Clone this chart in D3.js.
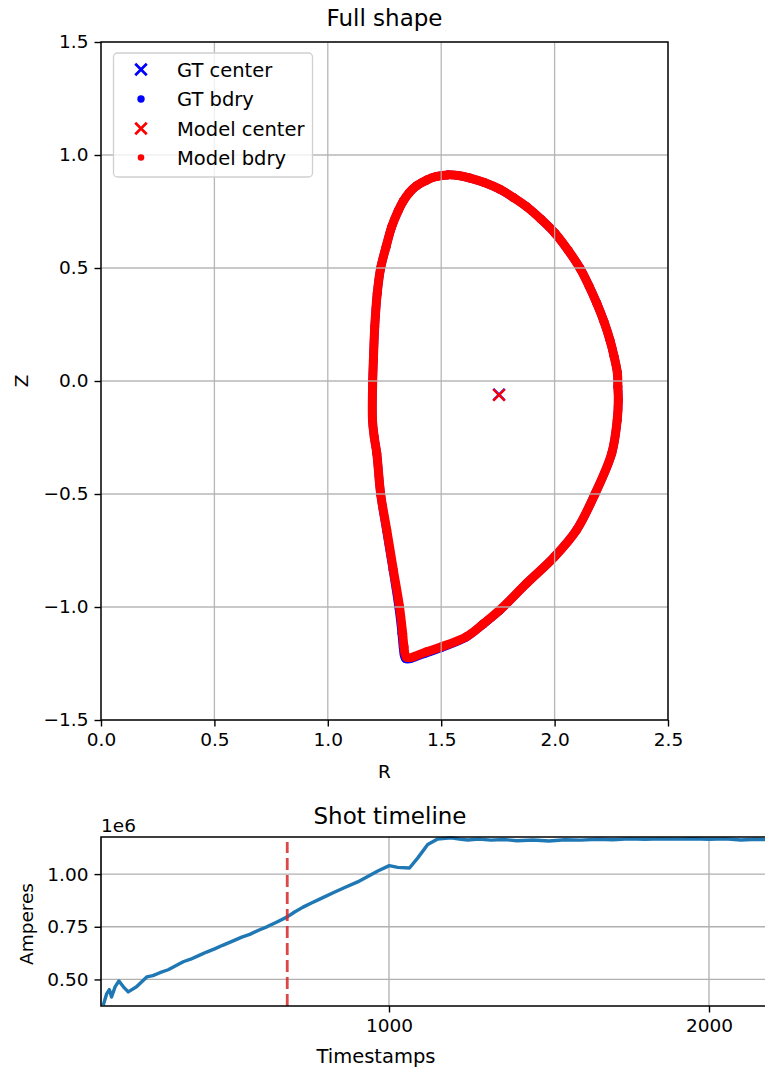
<!DOCTYPE html>
<html><head><meta charset="utf-8">
<script src="https://cdn.jsdelivr.net/npm/d3@7"></script>
<style>
body{margin:0;background:#fff}
svg text{font-family:"DejaVu Sans",sans-serif;fill:#000}
</style>
</head><body>
<svg id="c" width="765" height="1070"></svg>
<script>
// ---------- Full shape data ----------
const modelR = [2.279,2.277,2.262,2.244,2.218,2.186,2.152,2.112,2.060,2.002,1.940,1.877,1.818,1.759,1.690,1.627,1.575,1.529,1.480,1.436,1.392,1.358,1.332,1.310,1.282,1.257,1.233,1.218,1.207,1.201,1.198,1.197,1.205,1.216,1.233,1.260,1.289,1.316,1.330,1.336,1.348,1.436,1.502,1.612,1.685,1.759,1.877,2.000,2.097,2.178,2.252,2.276,2.281];
const modelZ = [-0.025,0.034,0.110,0.181,0.262,0.344,0.420,0.499,0.578,0.654,0.716,0.771,0.812,0.848,0.878,0.898,0.909,0.912,0.905,0.889,0.864,0.832,0.795,0.752,0.683,0.594,0.499,0.388,0.240,0.093,0.001,-0.173,-0.250,-0.320,-0.500,-0.659,-0.836,-0.998,-1.116,-1.176,-1.223,-1.198,-1.176,-1.131,-1.075,-1.013,-0.895,-0.777,-0.659,-0.500,-0.320,-0.173,-0.084];
const gtR = [2.279,2.277,2.262,2.244,2.218,2.186,2.152,2.112,2.060,2.002,1.940,1.877,1.818,1.759,1.690,1.627,1.575,1.529,1.480,1.436,1.392,1.358,1.332,1.310,1.282,1.257,1.233,1.218,1.207,1.201,1.198,1.197,1.205,1.216,1.233,1.258,1.287,1.312,1.326,1.332,1.343,1.430,1.500,1.610,1.684,1.758,1.876,2.000,2.097,2.178,2.252,2.276,2.281];
const gtZ = [-0.025,0.034,0.110,0.181,0.262,0.344,0.420,0.499,0.578,0.654,0.716,0.771,0.812,0.848,0.878,0.898,0.909,0.912,0.905,0.889,0.864,0.832,0.795,0.752,0.683,0.594,0.499,0.388,0.240,0.093,0.001,-0.173,-0.250,-0.320,-0.500,-0.659,-0.836,-0.998,-1.116,-1.180,-1.229,-1.205,-1.180,-1.134,-1.077,-1.015,-0.896,-0.777,-0.659,-0.500,-0.320,-0.173,-0.084];
const gtCenter = [1.755, -0.060];
const modelCenter = [1.755, -0.062];
const shapeRTicks = [0.0,0.5,1.0,1.5,2.0,2.5];
const shapeZTicks = [-1.5,-1.0,-0.5,0.0,0.5,1.0,1.5];
const legendLabels = ["GT center","GT bdry","Model center","Model bdry"];

// ---------- Shot timeline data ----------
const timeStamps = [107,118,126,133,144,156,170,185,211,243,262,284,310,335,357,380,405,430,455,480,513,540,565,596,620,650,682,705,730,756,790,829,860,902,935,965,1001,1027,1064,1090,1121,1152,1194,1220,1246,1280,1319,1360,1400,1450,1500,1550,1600,1650,1700,1750,1800,1850,1900,1950,2000,2050,2100,2150,2200,2250,2300];
const amperes = [0.378,0.433,0.452,0.417,0.465,0.493,0.465,0.441,0.465,0.512,0.518,0.532,0.546,0.566,0.584,0.596,0.613,0.630,0.645,0.662,0.683,0.701,0.714,0.736,0.751,0.773,0.797,0.820,0.842,0.862,0.886,0.914,0.935,0.963,0.990,1.015,1.040,1.032,1.029,1.077,1.140,1.166,1.172,1.166,1.162,1.166,1.161,1.164,1.158,1.162,1.157,1.163,1.161,1.165,1.163,1.167,1.165,1.167,1.166,1.168,1.165,1.167,1.162,1.165,1.162,1.164,1.163].map(v=>v*1e6);
const currentTime = 682;
const timeTicks = [1000,2000];
const ampTicks = [0.50e6,0.75e6,1.00e6];

const svg = d3.select("#c");
svg.append("rect").attr("width",765).attr("height",1070).attr("fill","#fff");
const FS = 18.5, TFS = 23;
const gridC = "#b0b0b0";

// ================= Top chart =================
const x1 = d3.scaleLinear().domain([0,2.5]).range([101,668]);
const y1 = d3.scaleLinear().domain([-1.5,1.5]).range([720,42]);
const g1 = svg.append("g");

const mR = modelR.map((r,i)=>({r, z:modelZ[i]}));
const gR = gtR.map((r,i)=>({r, z:gtZ[i]}));
const line1 = d3.line().x(d=>x1(d.r)).y(d=>y1(d.z)).curve(d3.curveCatmullRomClosed.alpha(0.5));

function xMark(g, cx, cy, size, color, sw){
  const h=size/2;
  g.append("path").attr("d",`M${cx-h},${cy-h}L${cx+h},${cy+h}M${cx-h},${cy+h}L${cx+h},${cy-h}`)
   .attr("stroke",color).attr("stroke-width",sw).attr("fill","none");
}
// GT
xMark(g1, x1(gtCenter[0]), y1(gtCenter[1]), 11.5, "#0000ff", 2.4);
g1.append("path").datum(gR).attr("d",line1).attr("fill","none").attr("stroke","#0000ff").attr("stroke-width",8.5).attr("stroke-linejoin","round");
g1.selectAll("circle.gt").data(gR).join("circle").attr("cx",d=>x1(d.r)).attr("cy",d=>y1(d.z)).attr("r",4.3).attr("fill","#0000ff");
// Model
xMark(g1, x1(modelCenter[0]), y1(modelCenter[1]), 11.5, "#ff0000", 2.4);
g1.append("path").datum(mR).attr("d",line1).attr("fill","none").attr("stroke","#ff0000").attr("stroke-width",9).attr("stroke-linejoin","round");
g1.selectAll("circle.m").data(mR).join("circle").attr("cx",d=>x1(d.r)).attr("cy",d=>y1(d.z)).attr("r",4.5).attr("fill","#ff0000");

// grid (drawn above scatter like matplotlib)
g1.selectAll("line.gx").data(shapeRTicks).join("line").attr("x1",d=>x1(d)).attr("x2",d=>x1(d)).attr("y1",42).attr("y2",720).attr("stroke",gridC).attr("stroke-width",1.3).attr("opacity",0.9);
g1.selectAll("line.gy").data(shapeZTicks).join("line").attr("y1",d=>y1(d)).attr("y2",d=>y1(d)).attr("x1",101).attr("x2",668).attr("stroke",gridC).attr("stroke-width",1.3).attr("opacity",0.9);

const fmt1 = d => d3.format(".1f")(d).replace("-","\u2212");
const ax1 = g1.append("g").attr("transform","translate(0,720)").call(d3.axisBottom(x1).tickValues(shapeRTicks).tickFormat(fmt1).tickSize(6.5).tickPadding(6));
const ay1 = g1.append("g").attr("transform","translate(101,0)").call(d3.axisLeft(y1).tickValues(shapeZTicks).tickFormat(fmt1).tickSize(6.5).tickPadding(6));
[ax1,ay1].forEach(a=>{a.select(".domain").remove();a.selectAll("line").attr("stroke","#000").attr("stroke-width",1.4);a.selectAll("text").attr("font-size",FS).attr("font-family","DejaVu Sans");});
g1.append("rect").attr("x",101).attr("y",42).attr("width",567).attr("height",678).attr("fill","none").attr("stroke","#000").attr("stroke-width",1.4);

g1.append("text").attr("x",384.5).attr("y",26).attr("text-anchor","middle").attr("font-size",TFS).text("Full shape");
g1.append("text").attr("x",384.5).attr("y",778).attr("text-anchor","middle").attr("font-size",FS).text("R");
g1.append("text").attr("transform","translate(28,381) rotate(-90)").attr("text-anchor","middle").attr("font-size",FS).text("Z");

// legend
const lg = g1.append("g");
lg.append("rect").attr("x",113.5).attr("y",53).attr("width",199).attr("height",124).attr("rx",4).attr("fill","#fff").attr("fill-opacity",0.8).attr("stroke","#d0d0d0").attr("stroke-width",1.3);
const rowsY = [69.5,99,128.5,157.5];
xMark(lg,141,rowsY[0],11.5,"#0000ff",2.7);
lg.append("circle").attr("cx",141).attr("cy",rowsY[1]).attr("r",3.7).attr("fill","#0000ff");
xMark(lg,141,rowsY[2],11.5,"#ff0000",2.7);
lg.append("circle").attr("cx",141).attr("cy",rowsY[3]).attr("r",3.3).attr("fill","#ff0000");
legendLabels.forEach((t,i)=>lg.append("text").attr("x",177).attr("y",rowsY[i]+7).attr("font-size",19.5).text(t));

// ================= Bottom chart =================
const L2=101, T2=837, B2=1006;
const x2 = d3.scaleLinear().domain([100,2400]).range([L2, L2+0.32*2300]);
const y2 = d3.scaleLinear().domain([0.374e6,1.176e6]).range([B2,T2]);
const g2 = svg.append("g");
g2.append("clipPath").attr("id","cp2").append("rect").attr("x",L2).attr("y",T2-2).attr("width",800).attr("height",B2-T2+2);
g2.selectAll("line.gx").data(timeTicks).join("line").attr("x1",d=>x2(d)).attr("x2",d=>x2(d)).attr("y1",T2).attr("y2",B2).attr("stroke",gridC).attr("stroke-width",1.3);
g2.selectAll("line.gy").data(ampTicks).join("line").attr("y1",d=>y2(d)).attr("y2",d=>y2(d)).attr("x1",L2).attr("x2",800).attr("stroke",gridC).attr("stroke-width",1.3);

const tl = timeStamps.map((t,i)=>({t,a:amperes[i]}));
g2.append("path").datum(tl).attr("clip-path","url(#cp2)")
  .attr("d",d3.line().x(d=>x2(d.t)).y(d=>y2(d.a)))
  .attr("fill","none").attr("stroke","#1f77b4").attr("stroke-width",3.4).attr("stroke-linejoin","round");
g2.append("line").attr("x1",x2(currentTime)).attr("x2",x2(currentTime)).attr("y1",B2).attr("y2",T2+5)
  .attr("stroke","#d62728").attr("stroke-width",2.8).attr("stroke-dasharray","12,5").attr("opacity",0.85);

const ax2 = g2.append("g").attr("transform",`translate(0,${B2})`).call(d3.axisBottom(x2).tickValues(timeTicks).tickFormat(d3.format("d")).tickSize(6.5).tickPadding(6));
const ay2 = g2.append("g").attr("transform",`translate(${L2},0)`).call(d3.axisLeft(y2).tickValues(ampTicks).tickFormat(d=>(d/1e6).toFixed(2)).tickSize(6.5).tickPadding(6));
[ax2,ay2].forEach(a=>{a.select(".domain").remove();a.selectAll("line").attr("stroke","#000").attr("stroke-width",1.4);a.selectAll("text").attr("font-size",FS).attr("font-family","DejaVu Sans");});
g2.append("path").attr("d",`M800,${T2}H${L2}V${B2}H800`).attr("fill","none").attr("stroke","#000").attr("stroke-width",1.6);

g2.append("text").attr("x",390).attr("y",824).attr("text-anchor","middle").attr("font-size",TFS).text("Shot timeline");
g2.append("text").attr("x",101).attr("y",832).attr("font-size",FS).text("1e6");
g2.append("text").attr("x",376).attr("y",1063).attr("text-anchor","middle").attr("font-size",19.5).text("Timestamps");
g2.append("text").attr("transform","translate(33,924) rotate(-90)").attr("text-anchor","middle").attr("font-size",FS).text("Amperes");
</script>
</body></html>
